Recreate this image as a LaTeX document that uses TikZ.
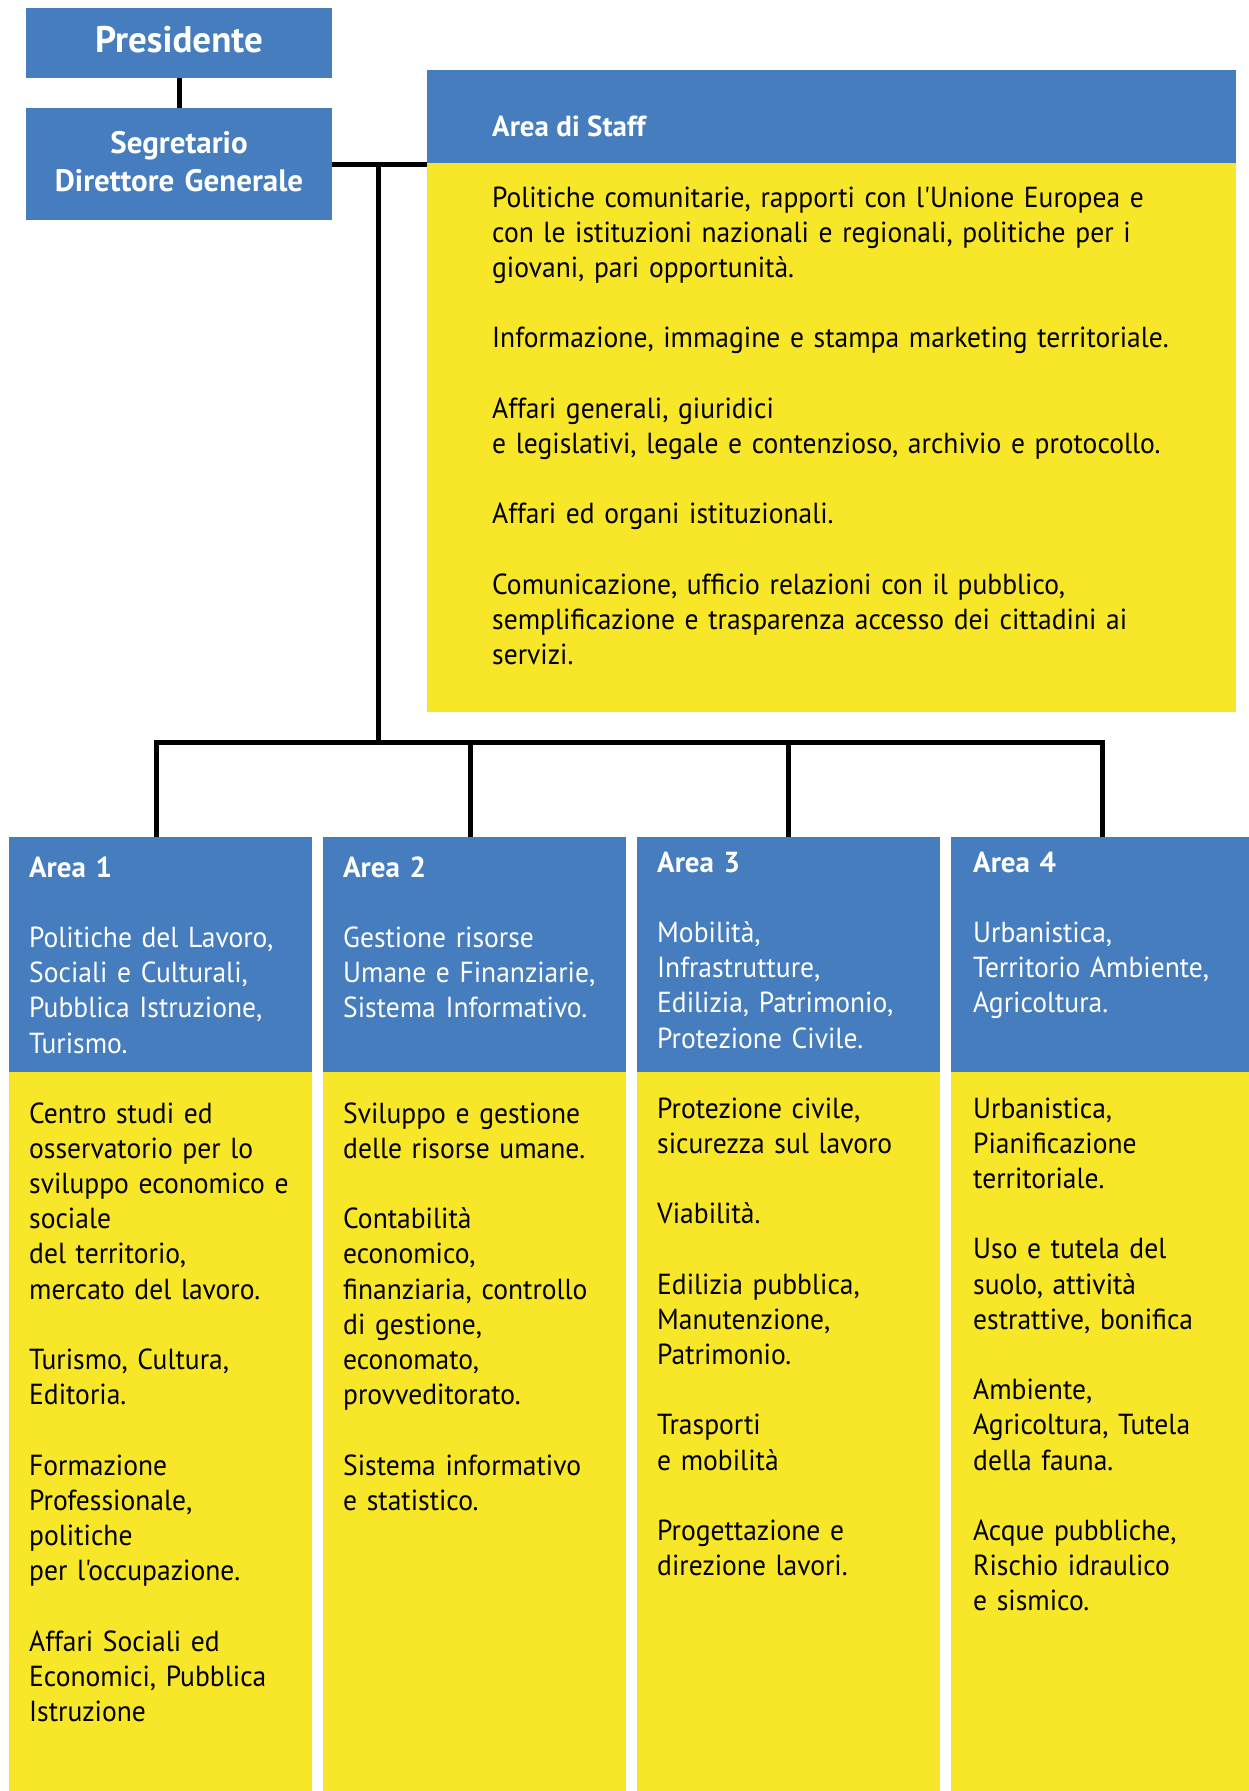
\documentclass[tikz,border=0pt]{standalone}
\usepackage{fontspec}
\setmainfont{PT Sans}[Ligatures=TeXOff, FakeStretch=0.95, BoldFeatures={FakeStretch=1.0}]
\definecolor{areablue}{RGB}{70,125,190}
\definecolor{areayellow}{RGB}{248,230,40}
\newcommand{\gap}{\\[\baselineskip]}
\tikzset{
  bluebox/.style={fill=areablue, inner sep=0pt, outer sep=0pt, anchor=north west},
  yellowbox/.style={fill=areayellow, inner sep=0pt, outer sep=0pt, anchor=north west},
  bodytext/.style={inner sep=0pt, anchor=base west, align=left, text width=#1,
    font=\fontsize{29}{35.2}\selectfont},
  bodytext/.default=300,
  link/.style={line width=5pt}
}

\begin{document}
\begin{tikzpicture}[x=1pt, y=-1pt]
	\useasboundingbox (0,0) rectangle (1249,1791);

	% vertici
	\node[bluebox, minimum width=306, minimum height=70] (pres) at (26,8) {};
	\node[bluebox, minimum width=306, minimum height=112] (segr) at (26,108) {};
	\node[inner sep=0pt, anchor=base, text=white, font=\fontsize{37}{40}\selectfont\bfseries] (presname) at (179,52) {Presidente};
	\node[inner sep=0pt, anchor=base, text=white, align=center, text width=306,
		font=\fontsize{31}{38}\selectfont\bfseries] (segrname) at (179,153) {Segretario\\Direttore Generale};

	% staff
	\node[bluebox, minimum width=809, minimum height=93] (staffhead) at (427,70) {};
	\node[yellowbox, minimum width=809, minimum height=549] (staff) at (427,163) {};
	\node[inner sep=0pt, anchor=base west, text=white, font=\fontsize{29}{35.2}\selectfont\bfseries] (stafftitle) at (492,136) {Area di Staff};
	\node[bodytext=735] (stafftext) at (492,207) {Politiche comunitarie, rapporti con l'Unione Europea e\\
		con le istituzioni nazionali e regionali, politiche per i\\
		giovani, pari opportunità.\gap
		Informazione, immagine e stampa marketing territoriale.\gap
		Affari generali, giuridici\\
		e legislativi, legale e contenzioso, archivio e protocollo.\gap
		Affari ed organi istituzionali.\gap
		Comunicazione, ufficio relazioni con il pubblico,\\
		semplificazione e trasparenza accesso dei cittadini ai\\
		servizi.};

	% aree
	\node[bluebox, minimum width=303, minimum height=235] (area1) at (9,837) {};
	\node[bluebox, minimum width=303, minimum height=235] (area2) at (323,837) {};
	\node[bluebox, minimum width=303, minimum height=235] (area3) at (637,837) {};
	\node[bluebox, minimum width=303, minimum height=235] (area4) at (951,837) {};
	\node[yellowbox, minimum width=303, minimum height=719] (tasks1) at (9,1072) {};
	\node[yellowbox, minimum width=303, minimum height=719] (tasks2) at (323,1072) {};
	\node[yellowbox, minimum width=303, minimum height=719] (tasks3) at (637,1072) {};
	\node[yellowbox, minimum width=303, minimum height=719] (tasks4) at (951,1072) {};

	\node[bodytext, text=white] (title1) at (29,877) {\textbf{Area 1}\gap
		Politiche del Lavoro,\\ Sociali e Culturali,\\ Pubblica Istruzione,\\ Turismo.};
	\node[bodytext, text=white] (title2) at (343,877) {\textbf{Area 2}\gap
		Gestione risorse\\ Umane e Finanziarie,\\ Sistema Informativo.};
	\node[bodytext, text=white] (title3) at (657,872) {\textbf{Area 3}\gap
		Mobilità,\\ Infrastrutture,\\ Edilizia, Patrimonio,\\ Protezione Civile.};
	\node[bodytext, text=white] (title4) at (973,872) {\textbf{Area 4}\gap
		Urbanistica,\\ Territorio Ambiente,\\ Agricoltura.};

	\node[bodytext] (text1) at (29,1123) {Centro studi ed\\ osservatorio per lo\\
		sviluppo economico e\\ sociale\\ del territorio,\\ mercato del lavoro.\gap
		Turismo, Cultura,\\ Editoria.\gap
		Formazione\\ Professionale,\\ politiche\\ per l'occupazione.\gap
		Affari Sociali ed\\ Economici, Pubblica\\ Istruzione};
	\node[bodytext] (text2) at (343,1123) {Sviluppo e gestione\\ delle risorse umane.\gap
		Contabilità\\ economico,\\ finanziaria, controllo\\ di gestione,\\ economato,\\ provveditorato.\gap
		Sistema informativo\\ e statistico.};
	\node[bodytext] (text3) at (657,1118) {Protezione civile,\\ sicurezza sul lavoro\gap
		Viabilità.\gap
		Edilizia pubblica,\\ Manutenzione,\\ Patrimonio.\gap
		Trasporti\\ e mobilità\gap
		Progettazione e\\ direzione lavori.};
	\node[bodytext] (text4) at (973,1118) {Urbanistica,\\ Pianificazione\\ territoriale.\gap
		Uso e tutela del\\ suolo, attività\\ estrattive, bonifica\gap
		Ambiente,\\ Agricoltura, Tutela\\ della fauna.\gap
		Acque pubbliche,\\ Rischio idraulico\\ e sismico.};

	% collegamenti
	\coordinate (split) at (378,742);
	\draw[link] (pres) -- (segr);
	\draw[link] (segr.east) -- (segr.east -| staff.west);
	\draw[link] (segr.east -| split) -- (split);
	\draw[link] ([xshift=-4pt]area1.north) |- (split) -| (area4.north);
	\draw[link] ([xshift=-4pt]split -| area2.north) -- ([xshift=-4pt]area2.north);
	\draw[link] (split -| area3.north) -- (area3.north);
\end{tikzpicture}
\end{document}
